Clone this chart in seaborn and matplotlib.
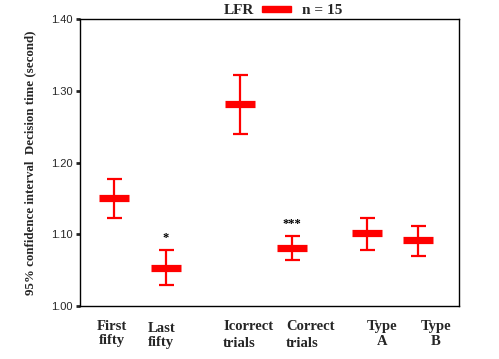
import numpy as np
import pandas as pd
import matplotlib
matplotlib.use('Agg')
import matplotlib.pyplot as plt
import matplotlib.transforms as mtransforms
from matplotlib.patches import Rectangle
import seaborn as sns

# -----------------------------------------------
# Data
# -----------------------------------------------
conditions = ['First fifty', 'Last fifty', 'Icorrect trials', 'Correct trials', 'Type A', 'Type B']
means = [1.150, 1.053, 1.282, 1.081, 1.102, 1.092]
ci_low = [1.123, 1.029, 1.240, 1.064, 1.078, 1.070]
ci_high = [1.177, 1.078, 1.322, 1.097, 1.123, 1.111]
signif = ['', '*', '', '***', '', '']

# layout: x positions of the groups and their labels
positions = [0.0, 1.0, 2.42, 3.42, 4.87, 5.85]
label_text = ['First\nfifty', 'Last\nfifty', 'Icorrect\ntrials', 'Correct\ntrials', 'Type\nA', 'Type\nB']
label_x = [-0.04, 0.654, 2.10, 3.31, 5.15, 6.19]
label_ha = ['center', 'left', 'left', 'left', 'center', 'center']
label_top = [0.108, 0.102, 0.108, 0.108, 0.108, 0.108]
label_spacing = [1.05, 1.05, 1.4, 1.4, 1.15, 1.15]

df = pd.DataFrame({'condition': conditions, 'x': positions, 'mean': means,
                   'low': ci_low, 'high': ci_high})

sns.set_style('ticks')
plt.rcParams['font.family'] = ['Liberation Serif', 'DejaVu Serif']

fig = plt.figure(figsize=(4.99, 3.59), dpi=100)
ax = fig.add_axes([0.160, 0.1476, 0.760, 0.7994])

red = '#ff0000'

# confidence interval whiskers
ax.errorbar(df['x'], df['mean'],
            yerr=[df['mean'] - df['low'], df['high'] - df['mean']],
            fmt='none', ecolor=red, elinewidth=1.6, capsize=5.4, capthick=1.6, zorder=2)

# mean markers (thick horizontal bars)
sns.scatterplot(data=df, x='x', y='mean', marker='_', s=440, linewidth=5.2,
                color=red, ax=ax, zorder=3, legend=False)

# significance stars
for x, hi, s in zip(positions, ci_high, signif):
    if s:
        ax.text(x, hi + 0.017, s, ha='center', va='center', fontsize=9,
                fontweight='bold', color='black')

ax.set_xlim(-0.654, 6.635)
ax.set_ylim(1.0, 1.4)
ax.set_yticks([1.0, 1.1, 1.2, 1.3, 1.4])
ax.set_yticklabels(['1.00', '1.10', '1.20', '1.30', '1.40'],
                   fontsize=8, family='Liberation Sans')
ax.set_xticks([])
ax.set_xlabel('')
ax.set_ylabel('95% confidence interval  Decision time (second)',
              fontsize=9.3, fontweight='bold', labelpad=11)
ax.tick_params(axis='y', direction='out', length=3, width=2, pad=2)

for sp in ax.spines.values():
    sp.set_visible(True)
    sp.set_linewidth(1.0)
    sp.set_color('black')

# category labels under the axis
trans = mtransforms.blended_transform_factory(ax.transData, fig.transFigure)
for x, txt, ha, top, ls in zip(label_x, label_text, label_ha, label_top, label_spacing):
    ax.text(x, top, txt, transform=trans, ha=ha, va='top', multialignment=ha,
            fontsize=10.5, fontweight='bold', linespacing=ls)

# title legend: LFR [bar] n = 15
fig.text(239 / 499, 1 - 10 / 359, 'LFR', ha='center', va='center',
         fontsize=11, fontweight='bold')
fig.patches.append(Rectangle((262 / 499, 1 - 12 / 359), 29 / 499, 6 / 359,
                             transform=fig.transFigure, color=red))
fig.text(322 / 499, 1 - 10 / 359, 'n = 15', ha='center', va='center',
         fontsize=11, fontweight='bold')

plt.savefig('out.png', dpi=100)
